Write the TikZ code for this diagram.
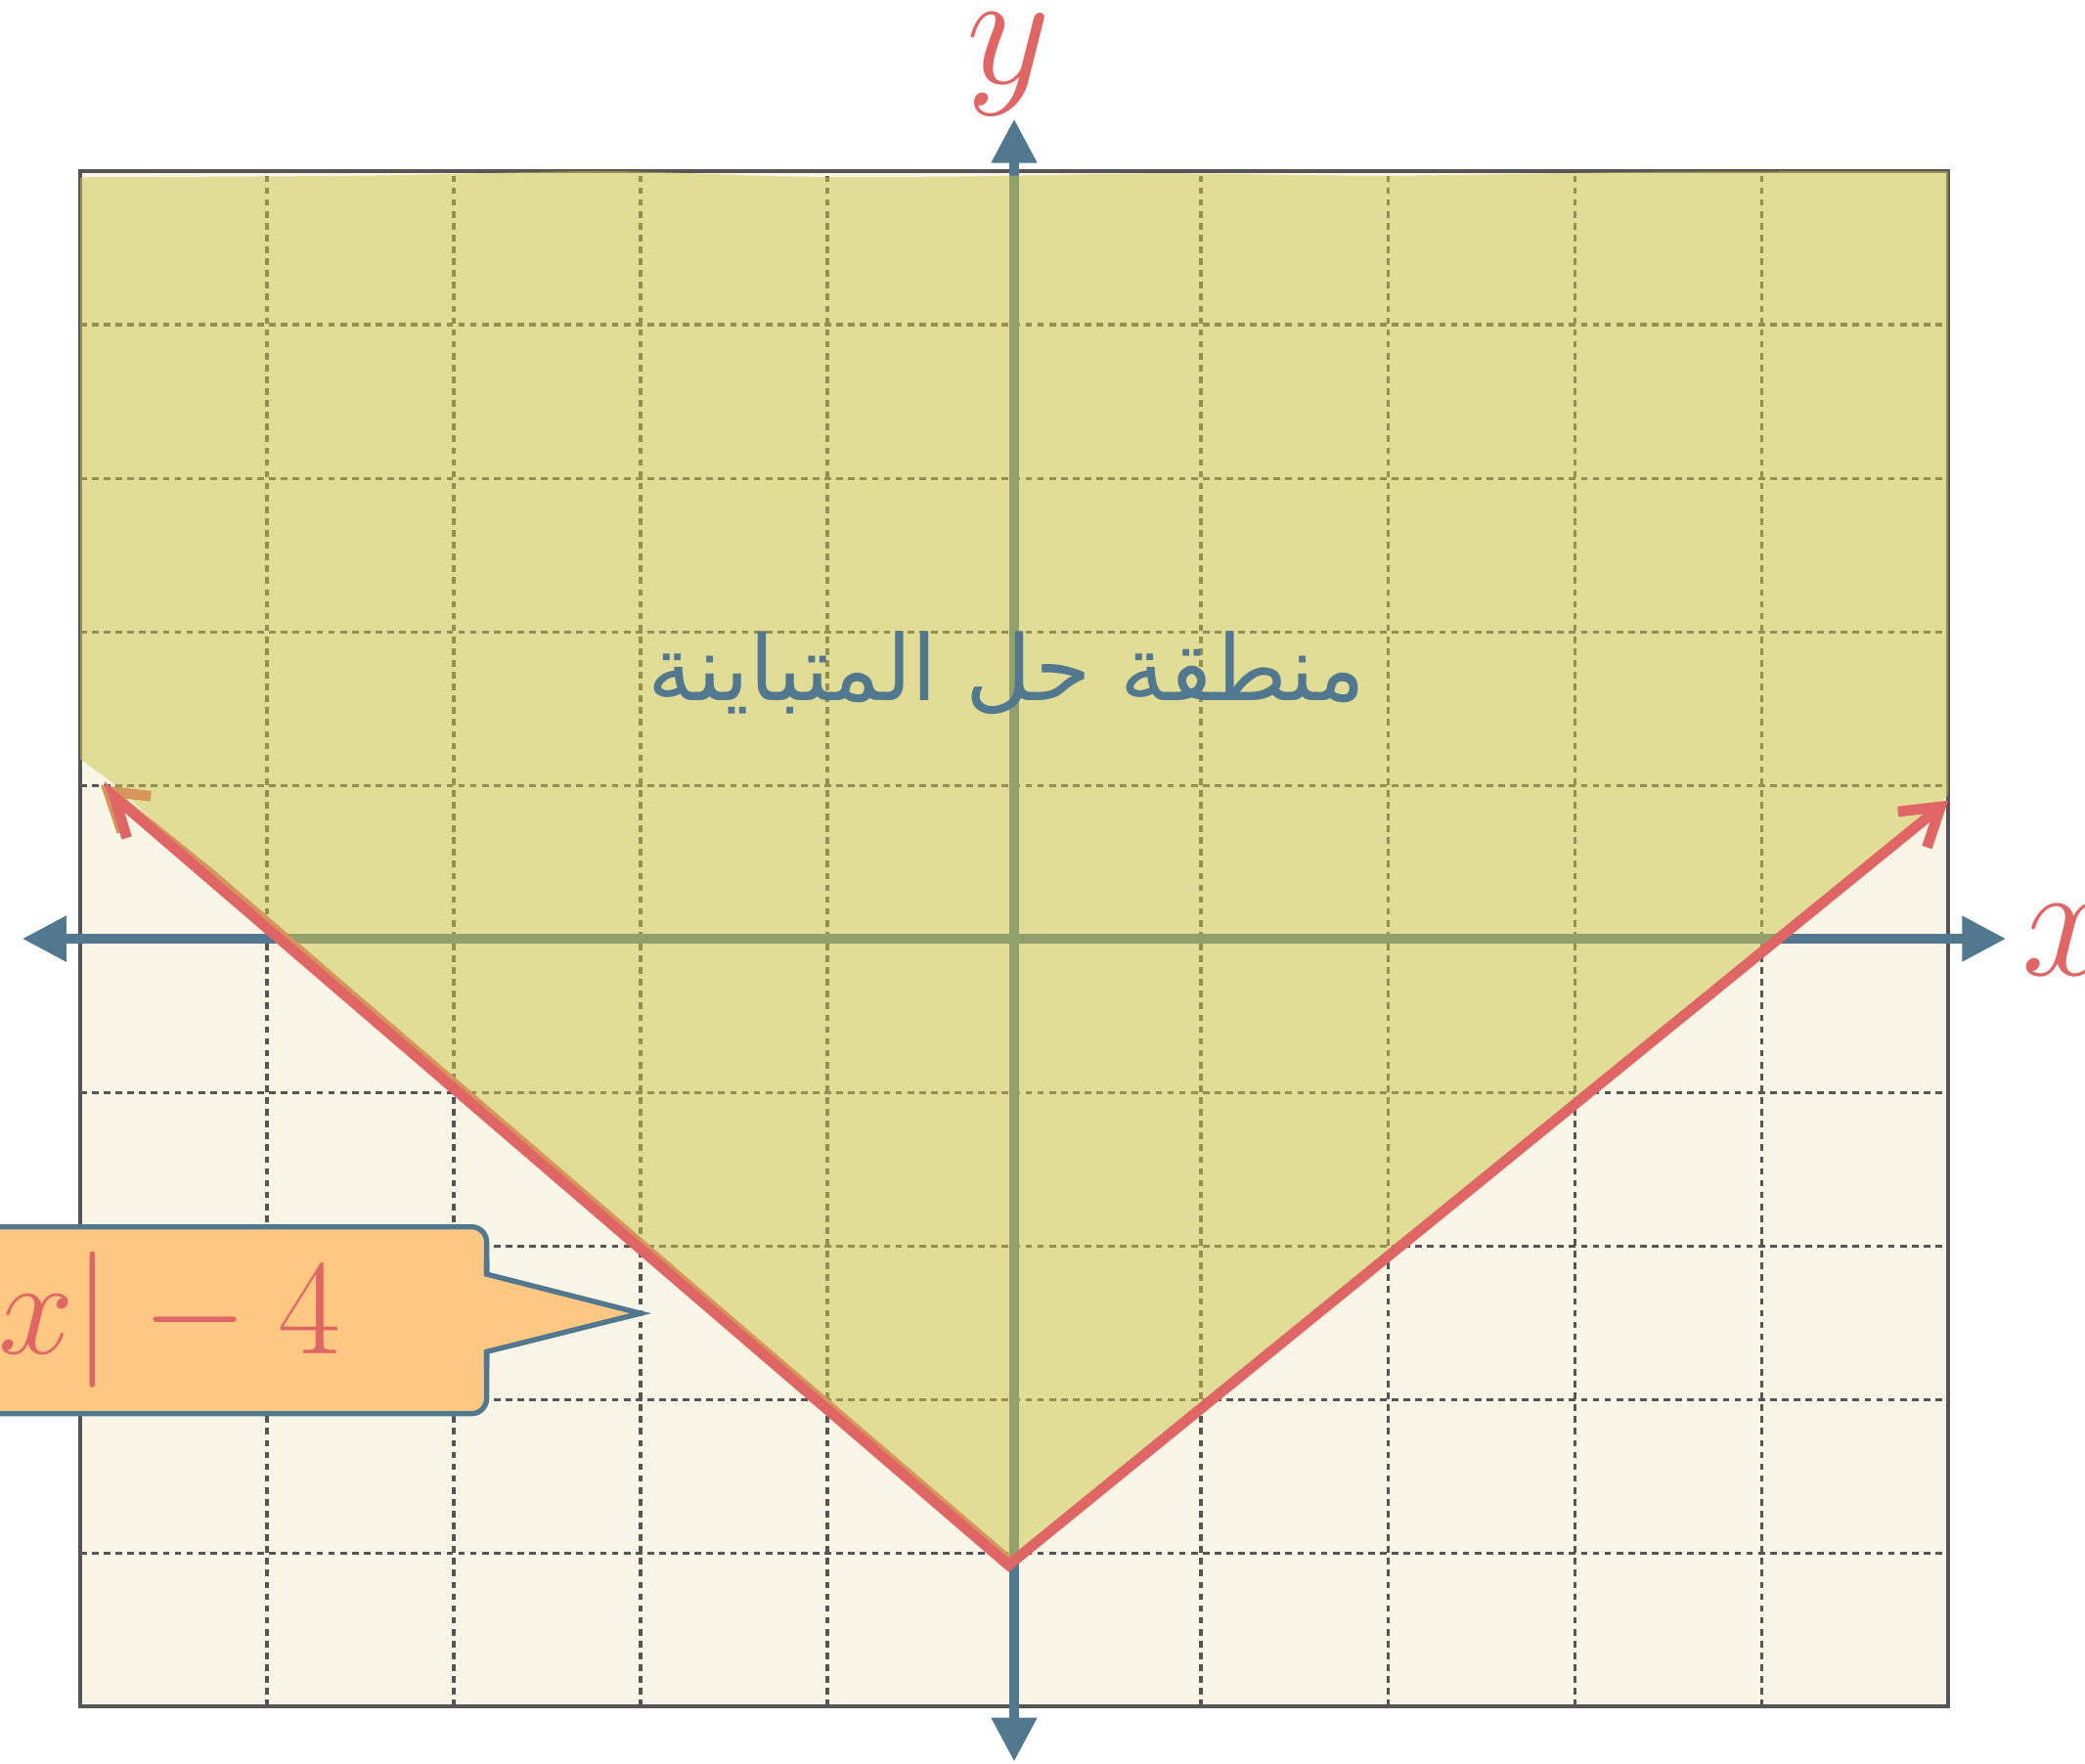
\documentclass[tikz,border=0pt]{standalone}
\usepackage{fontspec}
\newfontfamily\arabicfont[Script=Arabic]{DejaVu Sans}
\TeXXeTstate=1
\usetikzlibrary{arrows.meta,calc}
\definecolor{axisblue}{RGB}{82,120,143}
\definecolor{gridgray}{RGB}{85,85,85}
\definecolor{cream}{RGB}{249,246,232}
\definecolor{regionfill}{RGB}{204,197,78}
\definecolor{linered}{RGB}{224,102,102}
\definecolor{edgeorange}{RGB}{214,150,90}
\definecolor{calloutfill}{RGB}{255,200,130}
\begin{document}
\begin{tikzpicture}[
      x=1cm, y=0.822cm,
      gridline/.style={draw=gridgray, line width=.45pt, dash pattern=on 1pt off .8pt},
      gridframe/.style={draw=gridgray, line width=.5pt},
      axisline/.style={draw=axisblue, line width=1.5pt, <->,
                       >={Triangle[length=6.7pt, width=6.6pt]}},
      solregion/.style={fill=regionfill, fill opacity=.53},
      edgeline/.style={draw=edgeorange, line width=1.6pt, line join=round},
      vline/.style={draw=linered, line width=1.6pt, line join=miter},
      axislabel/.style={text=linered, font=\Huge, inner sep=0pt},
      eqbox/.style={draw=axisblue, fill=calloutfill, line width=.8pt,
                    rounded corners=2.3pt, minimum height=1cm, inner xsep=.78cm,
                    outer sep=0pt, font=\huge, text=linered},
      pointer/.style={draw=axisblue, line width=.8pt, line join=miter}
    ]
    \useasboundingbox[fill=white] (-5.4293,-5.3694) rectangle (5.7330,6.1146);

    % Grid paper.
    \fill[cream] (-5,-5) rectangle (5,5);
    \foreach \i in {-4,...,4} {
      \draw[gridline] (\i,-5) -- (\i,5);
      \draw[gridline] (-5,\i) -- (5,\i);
    }
    \draw[gridframe] (-5,-5) rectangle (5,5);

    % Axes.
    \coordinate (xmin) at (-5.31,0);
    \coordinate (xmax) at (5.31,0);
    \coordinate (ymin) at (0,-5.36);
    \coordinate (ymax) at (0,5.34);
    \draw[axisline] (xmin) -- (xmax);
    \draw[axisline] (ymin) -- (ymax);

    % Solution region above the graph.
    \coordinate (ltip) at (-4.89,1.0);
    \coordinate (vertex) at (-0.03,-4.08);
    \coordinate (rtip) at (5.0,0.9);
    \fill[solregion] plot[smooth] coordinates {(-5,4.96) (-3.5,4.97) (-2.2,5.0)
        (-1.2,4.965) (-0.3,4.965) (0.8,4.985) (2.0,4.97) (3.4,4.995) (5,5.0)}
      -- (5,0.93) -- (vertex) -- (-0.7,-3.35) -- (-1.6,-2.41) -- (-2.6,-1.36)
      -- (-3.5,-0.42) -- (-4.3,0.42) -- (-4.83,1.02) -- (-5,1.17) -- cycle;

    % Graph of y = |x| - 4.
    \draw[edgeline, -{Straight Barb[length=5.5pt, width=7pt]}]
      (-0.03,-4.05) -- (-0.7,-3.35) -- (-1.6,-2.41) -- (-2.6,-1.36)
      -- (-3.5,-0.42) -- (-4.3,0.42) -- (ltip);
    \draw[vline, {Straight Barb[left, length=5.5pt, width=7pt]}-{Straight Barb[length=5.5pt, width=7pt]}]
      (ltip) -- (vertex) -- (rtip);

    \node[anchor=base, text=axisblue, inner sep=0pt,
          font=\arabicfont\fontsize{13.85pt}{17pt}\selectfont] (regionlabel)
      at (-0.04,1.55) {\beginR منطقة حل المتباينة\endR};

    \node[axislabel, anchor=base] (ylabel) at (-0.03,5.57) {$y$};
    \node[axislabel, anchor=base west] (xlabel) at (5.39,-0.236) {$x$};

    % Equation callout.
    \node[eqbox, anchor=east] (eqlabel) at (-2.824,-2.485) {$y=|x|-4$};
    \coordinate (ptip) at (-2.0,-2.44);
    \coordinate (pbaseA) at ($(eqlabel.east)+(0,0.30)$);
    \coordinate (pbaseB) at ($(eqlabel.east)+(0,-0.205)$);
    \fill[calloutfill] ($(pbaseA)+(-0.08,0)$) -- (pbaseA) -- (ptip) -- (pbaseB)
      -- ($(pbaseB)+(-0.08,0)$) -- cycle;
    \draw[pointer] ($(pbaseA)+(0,0.1)$) -- (pbaseA) -- (ptip) -- (pbaseB)
      -- ($(pbaseB)+(0,-0.1)$);
  \end{tikzpicture}
\end{document}
